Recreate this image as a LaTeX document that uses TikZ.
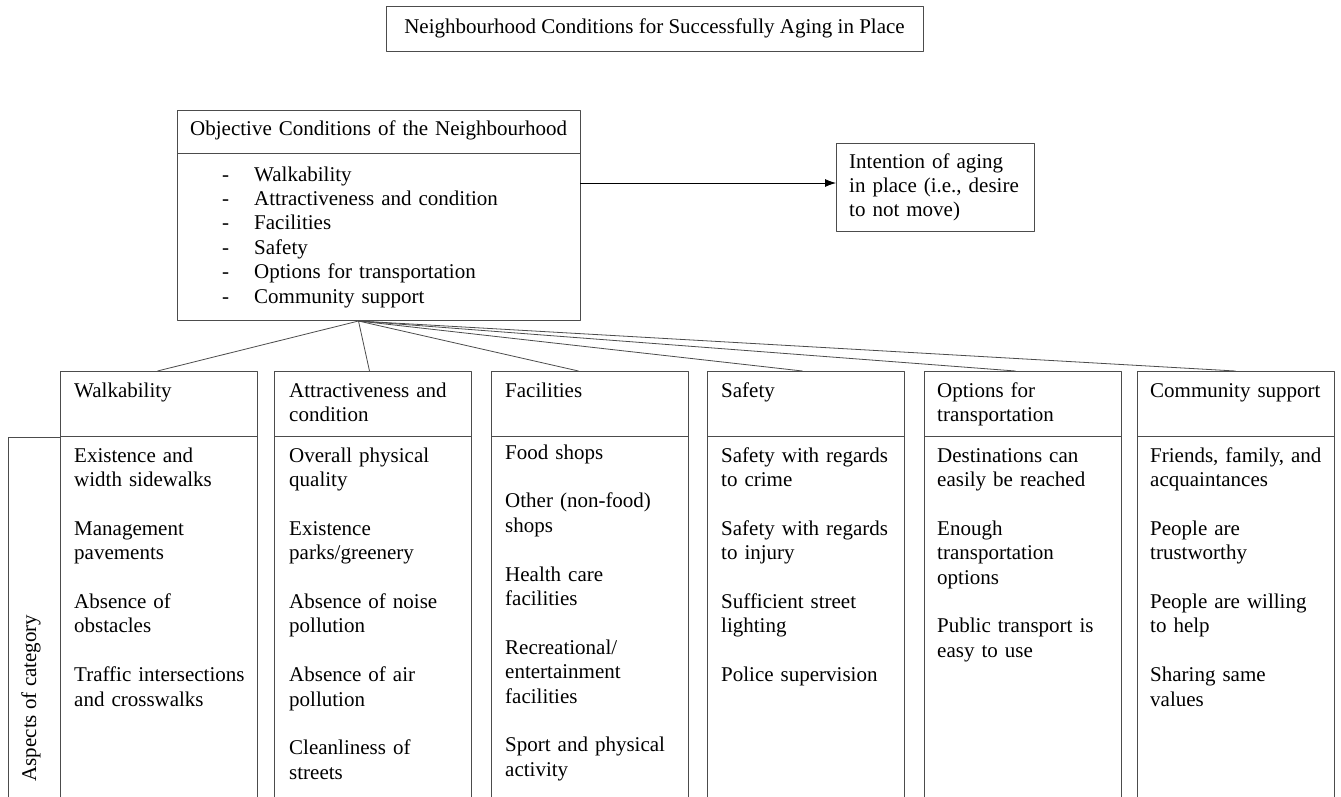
\documentclass[tikz,border=0pt]{standalone}
\usepackage{fontspec}
\setmainfont{Liberation Serif}
\usetikzlibrary{arrows.meta,positioning}
\begin{document}
\begin{tikzpicture}[x=1pt,y=-1pt,line join=round,>={Latex[length=11pt,width=8pt]},
        font=\fontsize{21}{24.4}\selectfont,
        box/.style={draw=black!70,line width=.9pt,inner sep=0pt,outer sep=0pt},
        cathead/.style={box,anchor=north west,minimum width=197pt,minimum height=65pt},
        catbody/.style={box,anchor=north west,minimum width=197pt,minimum height=400pt},
        txt/.style={anchor=base west,inner sep=0pt,text width=195pt,align=left}]
    \def\gap{\\[24.4pt]} % leere Zeile zwischen den Punkten
    \clip (0,0) rectangle (1341,796);
    \fill[white] (0,0) rectangle (1341,796);
    % Titel
    \node[box,minimum width=537pt,minimum height=45pt] (title) at (654.5,28.5) {Neighbourhood Conditions for Successfully Aging in Place};
    % objektive Bedingungen
    \node[box,anchor=north west,minimum width=403pt,minimum height=43pt] (ohead) at (177,110) {};
    \node[box,anchor=north west,minimum width=403pt,minimum height=167pt] (obody) at (177,153) {};
    \node[txt,text width=390pt] (otext) at (190,135) {Objective Conditions of the Neighbourhood};
    \node[txt,text width=20pt] (odash) at (222,181) {-\\-\\-\\-\\-\\-};
    \node[txt,text width=300pt] (olist) at (254,181) {Walkability\\Attractiveness and condition\\Facilities\\Safety\\Options for transportation\\Community support};
    % Absicht
    \node[box,anchor=north west,minimum width=198pt,minimum height=88pt] (intent) at (836,143) {};
    \node[txt] (itext) at (849,168) {Intention of aging\\in place (i.e., desire\\to not move)};
    \draw[->,line width=.8pt] ([yshift=4pt]intent.west -| obody.east) -- ([yshift=4pt]intent.west);
    % Kategorien
    \node[box,anchor=north west,minimum width=52pt,minimum height=400pt] (aspb) at (8,437) {};
    \node[rotate=90,inner sep=0pt] (aspt) at (31,698) {Aspects of category};
    \node[cathead] (walkh) at (60,371) {};
    \node[catbody] (walkb) at (60,436) {};
    \node[txt] (walkt) at (74,397) {Walkability};
    \node[txt] (walki) at (74,462) {Existence and\\width sidewalks\gap Management\\pavements\gap Absence of\\obstacles\gap Traffic intersections\\and crosswalks};
    \node[cathead] (attrh) at (274,371) {};
    \node[catbody] (attrb) at (274,436) {};
    \node[txt] (attrt) at (289,397) {Attractiveness and\\condition};
    \node[txt] (attri) at (289,462) {Overall physical\\quality\gap Existence\\parks/greenery\gap Absence of noise\\pollution\gap Absence of air\\pollution\gap Cleanliness of\\streets};
    \node[cathead] (facih) at (491,371) {};
    \node[catbody] (facib) at (491,436) {};
    \node[txt] (facit) at (505,397) {Facilities};
    \node[txt] (facii) at (505,459) {Food shops\gap Other (non-food)\\shops\gap Health care\\facilities\gap Recreational/\\entertainment\\facilities\gap Sport and physical\\activity};
    \node[cathead] (safeh) at (707,371) {};
    \node[catbody] (safeb) at (707,436) {};
    \node[txt] (safet) at (721,397) {Safety};
    \node[txt] (safei) at (721,462) {Safety with regards\\to crime\gap Safety with regards\\to injury\gap Sufficient street\\lighting\gap Police supervision};
    \node[cathead] (traih) at (924,371) {};
    \node[catbody] (traib) at (924,436) {};
    \node[txt] (trait) at (937,397) {Options for\\transportation};
    \node[txt] (traii) at (937,462) {Destinations can\\easily be reached\gap Enough\\transportation\\options\gap Public transport is\\easy to use};
    \node[cathead] (commh) at (1137,371) {};
    \node[catbody] (commb) at (1137,436) {};
    \node[txt] (commt) at (1150,397) {Community support};
    \node[txt] (commi) at (1150,462) {Friends, family, and\\acquaintances\gap People are\\trustworthy\gap People are willing\\to help\gap Sharing same\\values};
    % Verbindungen
    \coordinate (fan) at ([xshift=-20pt,yshift=-1pt]obody.south);
    \foreach \c/\s in {walkh/-1,attrh/-3,facih/-11,safeh/-3,traih/-7,commh/0}
        \draw[draw=black!70,line width=.8pt] (fan) -- ([xshift=\s pt]\c.north);
\end{tikzpicture}
\end{document}
